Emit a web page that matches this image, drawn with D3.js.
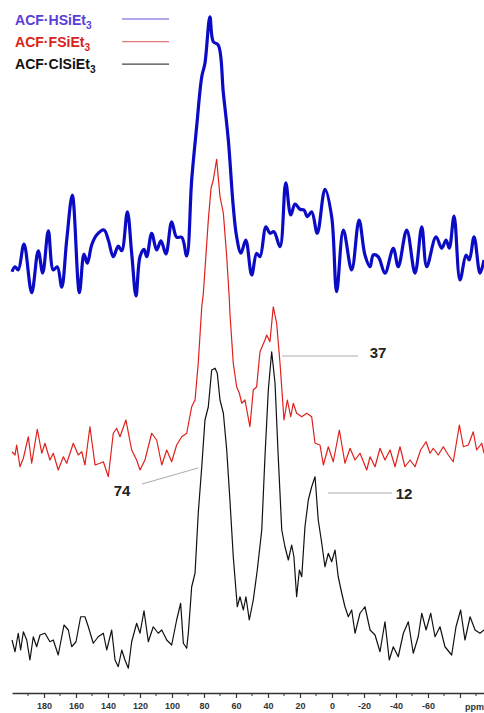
<!DOCTYPE html>
<html lang="en">
<head>
<meta charset="UTF-8">
<title>29Si NMR spectra</title>
<script src="https://d3js.org/d3.v7.min.js"></script>
<style>
    body { margin: 0; background: #fff; }
    svg { display: block; }
    text { font-family: "Liberation Sans", Arial, sans-serif; }
</style>
</head>
<body>
<svg id="chart"></svg>
<script>
    const W = 484, H = 713;

    // chemical shift axis (ppm)
    const majorTicks = [180, 160, 140, 120, 100, 80, 60, 40, 20, 0, -20, -40, -60, -80];
    const labelledTicks = [180, 160, 140, 120, 100, 80, 60, 40, 20, 0, -20, -40, -60];

    // ACF·HSiEt3 (blue, top)
    const bluePpm = [200, 198.1, 196.1, 192.5, 187.7, 183.6, 180.8, 177.3, 174.2, 171.7, 168.9, 165.8, 162.3, 157.9, 155, 152.9, 150.2, 147.1, 142.5, 139.8, 136.7, 133.6, 131.4, 127.9, 125.2, 122.5, 120, 117.5, 115.8, 112.7, 109.6, 106.9, 103.8, 100.2, 97.1, 93.9, 90.8, 87.7, 84.6, 81.4, 79.4, 76.3, 74.2, 71.1, 67.9, 64.8, 61.7, 59.6, 56.9, 53.9, 50.2, 47.1, 45, 41.3, 38.8, 36.3, 32.5, 28.9, 25.8, 23.1, 20, 17.5, 15.4, 12.7, 9.2, 4.4, 0.2, -2.9, -7.1, -12.3, -16.9, -20.6, -23.8, -25.8, -28.9, -33.1, -38.3, -41.4, -46.7, -51.9, -56.1, -59.2, -65, -68.6, -71.3, -73.3, -76.3, -80, -83.8, -85.8, -88.8, -92.5, -95];
    const blueInt = [-2.7, -0.7, -2, 8.4, -11.1, 5.7, -3.2, 13.7, -2, -0.7, -8.9, 10, 28, -11.1, 4.4, 0.7, 8, 12, 14, 10, 3.3, 7.6, 5.7, 21.3, 4.7, -12.4, 3.3, 6.3, 3.3, 12.7, 6, 9.7, 4.4, 17.3, 11.1, 11.1, 3.6, 34, 55.3, 75.3, 80.7, 99.3, 89.3, 88, 68.7, 50, 23.3, 11.3, 4.7, 10, -4, 4.7, 3.3, 15.3, 12.7, 13.3, 7.3, 32.9, 20, 24.4, 22.3, 22, 19.3, 21.3, 12.7, 30.3, 19.3, -10.7, 14, -2, 18, 4, -0.7, 4, 3.3, -3.3, 6.7, -0.7, 14, -3.3, 15.3, -0.7, 11.3, 6.7, 10, 6.7, 19.6, -6, 4, 2, 11.3, -3.3, 2];

    // ACF·FSiEt3 (red, middle)
    const redPpm = [200, 198.1, 197.1, 195, 192.9, 189.8, 187.7, 184.2, 181.4, 179.4, 176.3, 174.2, 171.1, 167.9, 165.8, 161.7, 158.6, 156.4, 154.4, 151.3, 148.1, 145, 142.9, 139.8, 136.7, 134.6, 132.5, 128.8, 125.2, 122.1, 120, 116.9, 112.7, 109.6, 106.4, 103.3, 100.2, 97.1, 93.9, 90.8, 87.7, 85.6, 83.6, 81.4, 80.4, 77.3, 75.6, 74.2, 72.1, 70, 67.9, 65.8, 64.2, 63.8, 61.7, 59.6, 57.9, 56.4, 54.4, 51.3, 49.2, 47.1, 45, 41.9, 40.8, 38.8, 36.7, 34.6, 32.5, 30, 27.9, 25.8, 24.2, 22.1, 18.9, 15.8, 12.7, 10.6, 7.5, 5.4, 2.3, -0.8, -4.6, -8.1, -11.3, -14.4, -17.5, -21.7, -23.8, -26.9, -30, -33.1, -36.3, -39.4, -42.5, -45.6, -48.8, -51.9, -55.4, -58.8, -61.3, -63.3, -66.4, -69.6, -72.7, -75.8, -79.6, -82.1, -85.2, -88.3, -90.4, -93.6, -95];
    const redInt = [-0.7, -2, 2, -6.7, -3.3, 5.3, -5.3, 8.3, -1.3, 2.7, -4, -1.3, -8, -2.7, -5.3, 2.7, -2, -0.7, -6, 9.3, -6, -5.3, -4.7, -10.7, 6.7, 8.7, 5.3, 12, 0, -4, -8, -4, 6.7, 4, -6, 0, -4.7, 2, 5.3, 6.7, 17.3, 20, 34.7, 57.3, 62.7, 92, 104.7, 108, 116.3, 101.3, 94.7, 77.3, 60.7, 54.7, 34.7, 25.3, 22.7, 18.7, 20, 9.3, 24, 25.3, 39.3, 44, 46, 43.3, 57.3, 50.7, 34.7, 12, 20, 13.3, 18.7, 14.7, 13.3, 14.7, 13.3, 2.7, 2, -6, 1.3, -4.7, 8, -5.3, 0.7, -4, -1.3, -8, -2.7, -6.7, 0.7, -4, 0, -6.7, 1.3, -6.7, -4, -6.7, 0, 3.3, -1.3, 0.7, -2, 1.3, -2, -4.7, 10, 1.3, 2, 7.3, 0, 2.7, -1.3];

    // ACF·ClSiEt3 (black, bottom)
    const blackPpm = [200, 198.1, 196.1, 194.6, 192.9, 190.8, 188.8, 186.7, 184.6, 182.5, 179.4, 176.3, 174.2, 171.1, 167.5, 164.8, 162.7, 160, 157.1, 154.4, 152.3, 149.2, 146.1, 142.9, 140.8, 137.7, 135.6, 133.6, 131.4, 129.4, 127.3, 125.2, 122.1, 120, 117.5, 114.8, 111.7, 108.6, 106.4, 103.3, 100.2, 97.1, 94.6, 92.9, 90.8, 89.8, 87.7, 85.6, 83.6, 81.4, 79.4, 77.3, 75.2, 73.1, 71.7, 70, 67.9, 65.8, 63.8, 61.7, 59.2, 57.5, 55.4, 53.8, 51.7, 49.2, 46.7, 43.9, 41.9, 39.8, 37.7, 35.6, 33.6, 31.4, 29.4, 27.3, 25.2, 23.8, 22.1, 20.4, 18.9, 16.9, 14.8, 12.7, 10.6, 8.6, 6.4, 4.4, 2.3, 0.2, -1.9, -3.9, -6.1, -8.1, -10.2, -12.3, -14.4, -17.5, -20.6, -23.8, -26.9, -30, -33.1, -35.8, -38.3, -41.4, -44.6, -47.7, -50.8, -53.9, -56.1, -58.8, -61.7, -64.4, -67.5, -70.6, -74.8, -77.5, -80.4, -83.1, -86.3, -89.4, -92.5, -95];
    const blackInt = [0, -4.7, 2.7, -4, 3.3, 0, -8, 1.3, -2.7, 2, 2.7, -0.7, 0, -6, 6, 4, -2.7, -0.7, 9.3, 9.3, 5.3, -1.3, 1.3, 2.7, -4, 4, -8, -10.7, -4, -8, -11.3, -0.7, 6.7, 2.7, 11.7, -0.7, 5.3, 2.7, 4, 0, -2, 8, 14.7, -1.3, -3.3, 2.7, 21.3, 26.7, 50.7, 69.3, 88, 93.3, 108, 108.7, 106.7, 96, 90.7, 76, 56, 33.3, 13.3, 17.3, 12, 17.3, 8, 16, 28, 44, 73.3, 100, 115.3, 102.7, 73.3, 44, 37.3, 32, 38, 33.3, 17.3, 28, 25.3, 45.3, 56, 61.3, 65.3, 48, 38.7, 29.3, 34.7, 31.3, 36, 25.3, 18.7, 13.3, 9.3, 12, 2.7, 10.7, 13.3, 4, 2, -4.7, 7.3, -8, -2.7, -6.7, 2.7, 7.3, -5.3, 1.3, 10.7, 4, 10.7, 1.3, 5.3, -2.7, -6, 5.3, 12, 0, 9.3, 4, 2.7, 4];

    const names = ["ACF·HSiEt", "ACF·FSiEt", "ACF·ClSiEt"];
    const offsets = [150, 76, 0];   // vertical stacking of the three spectra
    const peakLabels = ["74", "37", "12"];

    const svg = d3.select("#chart").attr("width", W).attr("height", H);

    const x = d3.scaleLinear().domain([200, -95]).range([12, 484]);
    const y = d3.scaleLinear().domain([0, 256]).range([640, 0]);

    const series = [
        { ppm: bluePpm, val: blueInt, color: "#0b0bc6", width: 3.2, curve: d3.curveCatmullRom, off: offsets[0] },
        { ppm: redPpm, val: redInt, color: "#e0201c", width: 1.2, curve: d3.curveLinear, off: offsets[1] },
        { ppm: blackPpm, val: blackInt, color: "#111", width: 1.2, curve: d3.curveLinear, off: offsets[2] }
    ];

    series.forEach(s => {
        const pts = s.ppm.map((p, i) => [p, s.val[i] + s.off]);
        const line = d3.line().x(d => x(d[0])).y(d => y(d[1])).curve(s.curve);
        svg.append("path")
            .datum(pts)
            .attr("fill", "none")
            .attr("stroke", s.color)
            .attr("stroke-width", s.width)
            .attr("stroke-linejoin", "round")
            .attr("d", line);
    });

    // legend
    const legendColors = ["#5a3ddb", "#d9231d", "#111"];
    const legendLine = ["#6a52d8", "#e07a74", "#444"];
    names.forEach((n, i) => {
        const t = svg.append("text")
            .attr("transform", `translate(15,${25 + i * 22}) scale(0.97,1)`)
            .attr("fill", legendColors[i])
            .attr("font-size", 14.5)
            .attr("font-weight", "bold")
            .text(n);
        t.append("tspan").attr("font-size", 10.5).attr("dy", 4).text("3");
        svg.append("line")
            .attr("x1", 122).attr("x2", 169)
            .attr("y1", 19 + i * 22.6).attr("y2", 19 + i * 22.6)
            .attr("stroke", legendLine[i])
            .attr("stroke-width", 1.2);
    });

    // peak annotations
    const ann = [
        { lab: peakLabels[0], x1: 142, y1: 484, x2: 198, y2: 468, tx: 122, ty: 496 },
        { lab: peakLabels[1], x1: 282, y1: 356, x2: 358, y2: 356, tx: 378, ty: 358 },
        { lab: peakLabels[2], x1: 328, y1: 493, x2: 392, y2: 493, tx: 404, ty: 499 }
    ];
    ann.forEach(a => {
        svg.append("line")
            .attr("x1", a.x1).attr("y1", a.y1).attr("x2", a.x2).attr("y2", a.y2)
            .attr("stroke", "#aaa").attr("stroke-width", 1);
        svg.append("text")
            .attr("x", a.tx).attr("y", a.ty)
            .attr("text-anchor", "middle")
            .attr("font-size", 15).attr("font-weight", "bold")
            .attr("fill", "#222")
            .text(a.lab);
    });

    // ppm axis
    const axisY = 693;
    const axis = d3.axisBottom(x)
        .tickValues(majorTicks)
        .tickSize(5)
        .tickSizeOuter(0)
        .tickPadding(5)
        .tickFormat(d => labelledTicks.includes(d) ? d : "");
    const gx = svg.append("g").attr("transform", `translate(0,${axisY})`).call(axis);
    gx.select(".domain").attr("stroke", "#333").attr("stroke-width", 1.5);
    gx.selectAll(".tick line").attr("stroke", "#333").attr("stroke-width", 1.2);
    gx.selectAll(".tick text")
        .attr("font-size", 9).attr("font-weight", "bold").attr("fill", "#333")
        .attr("font-family", "Liberation Sans, Arial, sans-serif");

    const minor = d3.range(-90, 200, 20);
    gx.selectAll(".minor").data(minor).enter().append("line")
        .attr("class", "minor")
        .attr("x1", d => x(d)).attr("x2", d => x(d))
        .attr("y1", 0).attr("y2", 3)
        .attr("stroke", "#333").attr("stroke-width", 1);

    svg.append("text")
        .attr("x", 465).attr("y", 710)
        .attr("font-size", 9).attr("font-weight", "bold").attr("fill", "#333")
        .text("ppm");
</script>
</body>
</html>
